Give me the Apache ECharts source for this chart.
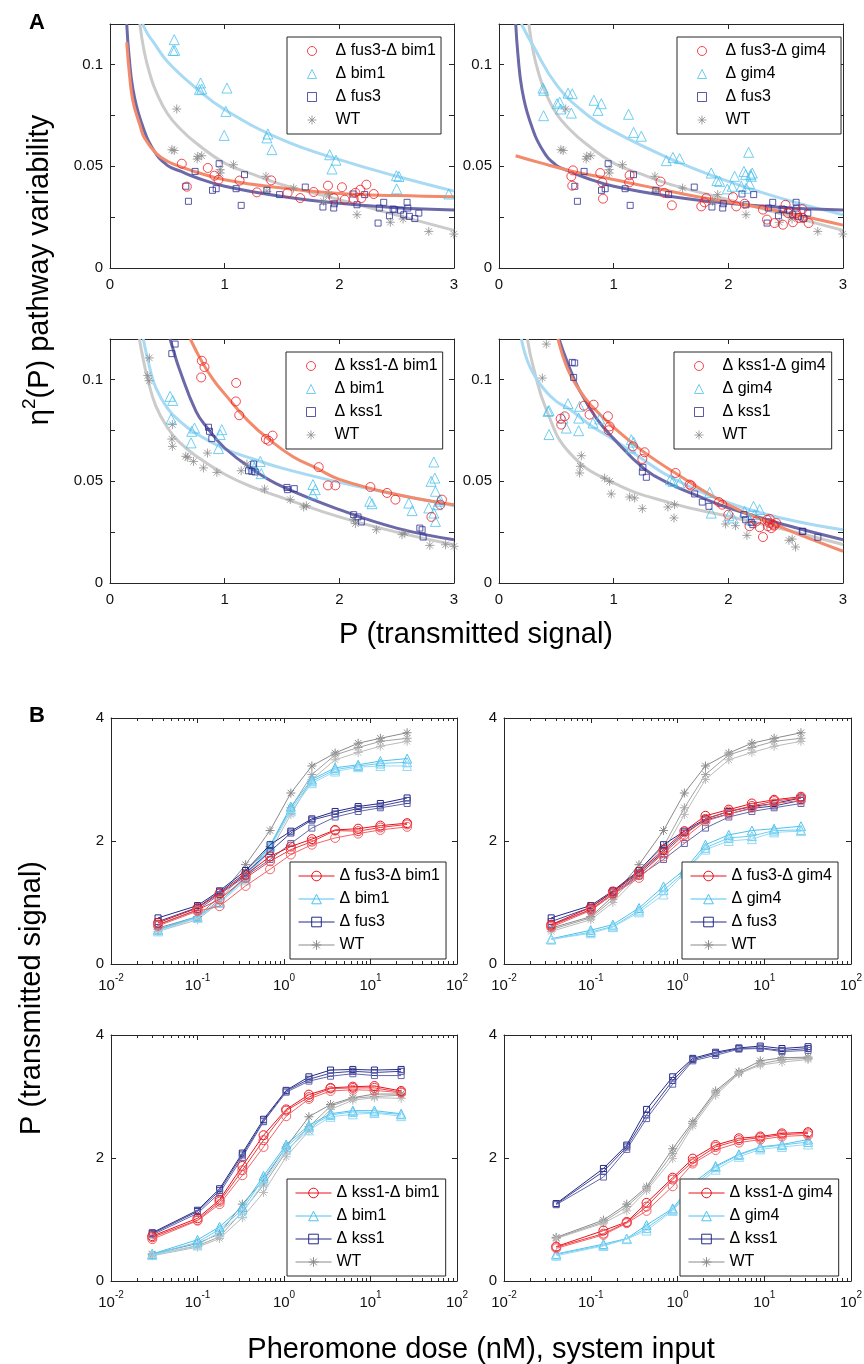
<!DOCTYPE html>
<html><head><meta charset="utf-8">
<script src="https://cdn.jsdelivr.net/npm/echarts@6/dist/echarts.min.js"></script>
<style>html,body{margin:0;padding:0;background:#fff}#a{width:864px;height:660px}#b{width:864px;height:704px}</style>
</head><body><div id="a"></div><div id="b"></div>
<script>
// ---------- Panel A data: scatter points [P, eta^2] ----------
const a1Dbl = [[0.626,0.0513],[0.670,0.0400],[0.853,0.0492],[0.911,0.0454],[0.946,0.0434],[1.130,0.0430],[1.281,0.0372],[1.406,0.0431],[1.549,0.0369],[1.659,0.0344],[1.776,0.0374],[1.901,0.0405],[1.951,0.0344],[2.023,0.0397],[2.047,0.0336],[2.125,0.0339],[2.14,0.0370],[2.183,0.0385],[2.192,0.0344],[2.236,0.0410],[2.300,0.0364]];
const a1Bim1 = [[0.56,0.1123],[0.55,0.107],[0.565,0.107],[0.79,0.091],[0.80,0.088],[0.78,0.0877],[1.02,0.0885],[1.01,0.077],[0.996,0.0652],[1.377,0.0659],[1.368,0.064],[1.412,0.0582],[1.916,0.0557],[1.971,0.053],[1.936,0.0487],[2.498,0.0454],[2.52,0.045],[2.50,0.0389],[2.955,0.0364]];
const fus3A = [[0.742,0.0475],[0.661,0.0402],[0.684,0.0328],[0.952,0.0513],[0.894,0.0382],[0.926,0.039],[1.100,0.039],[1.173,0.0459],[1.144,0.0308],[1.368,0.0382],[1.479,0.0361],[1.703,0.0398],[1.857,0.030],[1.951,0.0295],[1.956,0.0316],[2.119,0.0364],[2.154,0.0311],[2.221,0.0361],[2.338,0.0221],[2.349,0.0295],[2.387,0.0323],[2.437,0.0257],[2.469,0.029],[2.483,0.0287],[2.533,0.0284],[2.562,0.0262],[2.591,0.0323],[2.597,0.0295],[2.611,0.0254],[2.658,0.0243],[2.693,0.027]];
const wtATop = [[0.582,0.0782],[0.54,0.0582],[0.56,0.0578],[0.76,0.0536],[0.765,0.0549],[0.80,0.0552],[0.961,0.0484],[0.961,0.0467],[1.077,0.0508],[1.36,0.0451],[1.368,0.0377],[1.601,0.0393],[1.863,0.0328],[1.907,0.0361],[2.154,0.0262],[2.445,0.0225],[2.556,0.0241],[2.78,0.018],[2.998,0.0167]];
const a2Dbl = [[0.645,0.048],[0.631,0.0451],[0.639,0.0405],[0.883,0.0467],[0.901,0.0421],[0.907,0.0341],[1.139,0.0456],[1.135,0.0421],[1.409,0.0425],[1.444,0.0369],[1.508,0.0308],[1.764,0.0303],[1.808,0.0344],[1.793,0.0323],[2.04,0.0349],[2.069,0.0303],[2.142,0.0316],[2.302,0.0287],[2.337,0.0238],[2.403,0.0221],[2.476,0.0213],[2.499,0.0311],[2.52,0.027],[2.563,0.0225],[2.592,0.027],[2.615,0.0246],[2.645,0.029],[2.65,0.0246],[2.70,0.0221]];
const a2Gim4 = [[0.384,0.0885],[0.39,0.0874],[0.389,0.0749],[0.506,0.0808],[0.538,0.0782],[0.529,0.0816],[0.602,0.086],[0.639,0.0857],[0.631,0.0762],[0.828,0.0825],[0.863,0.0775],[0.892,0.0808],[1.13,0.0756],[1.174,0.0667],[1.241,0.0648],[1.459,0.0528],[1.517,0.0544],[1.575,0.0538],[1.851,0.0467],[1.9,0.043],[1.924,0.0426],[1.991,0.0389],[2.034,0.0402],[2.055,0.0451],[2.113,0.0402],[2.136,0.0475],[2.151,0.0459],[2.156,0.0392],[2.177,0.0569],[2.185,0.0415],[2.194,0.0459],[2.2,0.0451],[2.209,0.0467]];
const a3Dbl = [[0.801,0.1093],[0.824,0.1062],[0.795,0.1011],[1.10,0.0984],[1.098,0.0893],[1.127,0.0825],[1.36,0.0708],[1.383,0.070],[1.418,0.0725],[1.82,0.0570],[1.901,0.048],[1.965,0.048],[2.271,0.0472],[2.416,0.0443],[2.489,0.041],[2.803,0.0325],[2.88,0.0385],[2.895,0.041]];
const a3Bim1 = [[0.524,0.0918],[0.547,0.0898],[0.533,0.0807],[0.713,0.0746],[0.737,0.0762],[0.707,0.0689],[0.946,0.0661],[0.975,0.0754],[0.961,0.073],[1.243,0.0582],[1.26,0.057],[1.31,0.0598],[1.319,0.0538],[1.77,0.0484],[1.79,0.0459],[1.767,0.0438],[2.265,0.0402],[2.285,0.039],[2.606,0.0393],[2.635,0.0356],[2.824,0.0595],[2.833,0.0516],[2.80,0.050],[2.838,0.0451],[2.78,0.0369],[2.824,0.0344],[2.838,0.0303],[2.867,0.0402],[2.877,0.041],[2.854,0.0385]];
const a3Kss1 = [[0.568,0.1175],[0.539,0.1128],[0.859,0.0766],[0.868,0.0746],[0.888,0.071],[1.208,0.0552],[1.237,0.0549],[1.266,0.0546],[1.252,0.0585],[1.543,0.047],[1.549,0.0459],[1.607,0.0464],[2.125,0.0336],[2.163,0.0325],[2.192,0.030],[2.702,0.027],[2.722,0.0262],[2.731,0.0226]];
const a3WT = [[0.343,0.1107],[0.329,0.102],[0.341,0.0995],[0.544,0.0779],[0.539,0.0708],[0.544,0.0672],[0.661,0.0623],[0.678,0.0618],[0.728,0.0598],[0.815,0.0566],[0.85,0.0639],[0.932,0.0544],[1.144,0.0552],[1.194,0.0585],[1.348,0.0462],[1.572,0.041],[1.689,0.0374],[1.712,0.038],[2.125,0.0311],[2.14,0.0292],[2.323,0.0262],[2.547,0.0238],[2.571,0.0246],[2.789,0.0185],[2.926,0.0188],[3.0,0.018]];
const a4Dbl = [[0.543,0.0779],[0.538,0.0808],[0.573,0.082],[0.741,0.0872],[0.79,0.0828],[0.825,0.0877],[0.95,0.082],[0.965,0.077],[0.956,0.0751],[1.168,0.0672],[1.25,0.061],[1.27,0.0643],[1.54,0.0541],[1.662,0.0484],[1.677,0.0479],[1.918,0.0398],[1.947,0.0385],[2.0,0.0336],[2.185,0.0279],[2.244,0.0303],[2.273,0.0274],[2.302,0.0226],[2.337,0.0311],[2.345,0.0279],[2.36,0.0295],[2.36,0.0315],[2.375,0.027],[2.389,0.0287],[2.40,0.0282],[2.418,0.0295]];
const a4Gim4 = [[0.427,0.0844],[0.436,0.0848],[0.436,0.073],[0.558,0.0811],[0.587,0.0762],[0.602,0.0882],[0.695,0.0749],[0.695,0.0811],[0.703,0.0869],[0.82,0.0787],[0.878,0.0807],[1.154,0.0705],[1.174,0.0693],[1.148,0.0664],[1.494,0.0508],[1.517,0.050],[1.575,0.0492],[1.837,0.0446],[1.851,0.0344],[2.005,0.0331],[2.04,0.032],[2.142,0.0352],[2.185,0.0311],[2.22,0.0377],[2.229,0.0336],[2.273,0.0361]];
const a4Kss1 = [[0.639,0.1085],[0.66,0.1082],[0.651,0.1011],[1.255,0.0569],[1.25,0.0546],[1.285,0.052],[1.706,0.0438],[1.773,0.0398],[1.831,0.0377],[2.136,0.0336],[2.151,0.0311],[2.2,0.0298],[2.214,0.0287],[2.645,0.0254],[2.65,0.0254],[2.781,0.0225]];
const a4WT = [[0.413,0.1175],[0.378,0.1008],[0.718,0.0626],[0.709,0.0574],[0.703,0.0541],[0.921,0.0516],[0.965,0.050],[0.979,0.0438],[1.139,0.0423],[1.183,0.0418],[1.25,0.0366],[1.473,0.0374],[1.531,0.0385],[1.526,0.032],[1.976,0.029],[2.063,0.0282],[2.162,0.0234],[2.528,0.021],[2.557,0.0216],[2.586,0.0177]];

// ---------- Panel A fitted curves ----------
const fitA1Dbl = [[0.146,0.111],[0.17,0.095],[0.2,0.082],[0.262,0.07],[0.3,0.064],[0.4,0.0565],[0.5,0.0525],[0.63,0.0495],[0.75,0.0472],[1,0.0434],[1.5,0.0393],[2,0.0366],[2.5,0.0356],[3,0.035]];
const fitA1Bim1 = [[0.285,0.12],[0.33,0.115],[0.38,0.111],[0.5,0.1016],[0.75,0.0885],[1,0.0779],[1.5,0.0631],[2,0.0533],[2.5,0.0451],[3,0.0378]];
const fitFus3Top = [[0.146,0.12],[0.165,0.105],[0.2,0.088],[0.265,0.073],[0.38,0.058],[0.5,0.0505],[0.62,0.0475],[0.75,0.0445],[1,0.0402],[1.5,0.0352],[2,0.0318],[2.5,0.0296],[3,0.0285]];
const fitWTTop = [[0.26,0.12],[0.3,0.106],[0.35,0.095],[0.4,0.087],[0.5,0.076],[0.62,0.068],[0.75,0.0615],[1,0.0516],[1.25,0.046],[1.5,0.041],[2,0.0336],[2.5,0.026],[3,0.0185]];
const fitA2Dbl = [[0.145,0.0552],[0.355,0.0518],[0.645,0.0475],[0.936,0.0443],[1.139,0.0418],[1.43,0.0385],[1.72,0.0352],[2.01,0.0325],[2.3,0.0295],[2.59,0.0262],[3,0.0211]];
const fitA2Gim4 = [[0.195,0.12],[0.3,0.109],[0.5,0.0902],[0.75,0.0762],[1,0.0672],[1.5,0.0536],[2,0.0426],[2.5,0.0336],[3,0.0262]];
const fitA3Dbl = [[0.7,0.12],[0.8,0.109],[0.9,0.1],[1,0.093],[1.2,0.08],[1.4,0.07],[1.6,0.062],[1.8,0.0565],[2,0.051],[2.5,0.0435],[3,0.0385]];
const fitA3Bim1 = [[0.29,0.12],[0.35,0.105],[0.4,0.096],[0.5,0.086],[0.6,0.08],[0.75,0.0735],[1,0.066],[1.25,0.061],[1.5,0.0565],[2,0.0495],[2.5,0.0435],[3,0.038]];
const fitA3Kss1 = [[0.524,0.12],[0.55,0.115],[0.6,0.106],[0.75,0.0844],[0.85,0.0762],[1,0.0664],[1.25,0.0557],[1.5,0.0475],[2,0.0361],[2.5,0.027],[3,0.0213]];
const fitA3WT = [[0.256,0.12],[0.29,0.11],[0.33,0.1],[0.4,0.087],[0.5,0.0765],[0.6,0.0695],[0.75,0.0625],[1,0.0535],[1.25,0.047],[1.5,0.042],[2,0.0325],[2.5,0.025],[3,0.0188]];
const fitA4Dbl = [[0.514,0.12],[0.6,0.105],[0.7,0.095],[0.8,0.0875],[1,0.0765],[1.25,0.065],[1.54,0.054],[2,0.0385],[2.5,0.0265],[3,0.0156]];
const fitA4Gim4 = [[0.195,0.12],[0.267,0.1066],[0.384,0.0959],[0.5,0.0893],[0.616,0.0855],[0.8,0.0775],[1,0.0705],[1.25,0.061],[1.5,0.052],[2,0.0395],[2.5,0.0315],[3,0.0262]];
const fitA4Kss1 = [[0.523,0.12],[0.6,0.108],[0.7,0.095],[0.85,0.081],[1,0.071],[1.27,0.056],[1.5,0.0485],[1.75,0.0425],[2,0.037],[2.5,0.0285],[3,0.0213]];
const fitA4WT = [[0.247,0.12],[0.3,0.106],[0.413,0.0852],[0.616,0.064],[1,0.0492],[1.5,0.0393],[2,0.0328],[2.5,0.0262],[3,0.0189]];

// ---------- Panel B data: doses (nM) and 3 replicate response curves ----------
const doseTop = [0.035,0.10,0.18,0.36,0.69,1.2,2.1,3.9,7.2,13,26.5];
const doseBL = [0.030,0.10,0.18,0.33,0.58,1.06,1.94,3.45,6.25,11.1,22.6];
const doseBR = [0.040,0.14,0.26,0.44,0.88,1.5,2.75,5.1,9.0,16,32];

const wtBTop = [[0.585,0.77,1.1,1.615,2.17,2.78,3.22,3.43,3.59,3.67,3.76],[0.56,0.75,1.05,1.50,1.91,2.54,3.08,3.40,3.52,3.62,3.67],[0.53,0.72,1.00,1.43,1.83,2.43,3.00,3.32,3.44,3.54,3.62]];
const fus3B = [[0.75,0.95,1.19,1.52,1.94,2.16,2.36,2.48,2.56,2.61,2.70],[0.69,0.92,1.17,1.48,1.83,2.13,2.34,2.44,2.53,2.57,2.66],[0.64,0.88,1.13,1.43,1.70,1.96,2.21,2.39,2.48,2.54,2.61]];
const b1Bim1 = [[0.56,0.775,1.00,1.43,1.93,2.56,3.00,3.19,3.24,3.30,3.34],[0.55,0.765,1.01,1.39,1.91,2.52,2.97,3.16,3.22,3.26,3.28],[0.53,0.75,0.99,1.36,1.89,2.48,2.94,3.13,3.20,3.22,3.22]];
const b1Dbl = [[0.67,0.91,1.15,1.45,1.75,1.91,2.03,2.18,2.20,2.25,2.29],[0.64,0.88,1.05,1.40,1.67,1.86,1.99,2.17,2.16,2.22,2.27],[0.62,0.86,0.94,1.27,1.54,1.78,1.94,2.05,2.12,2.18,2.23]];
const b2Dbl = [[0.64,0.92,1.18,1.50,1.86,2.16,2.41,2.51,2.61,2.67,2.72],[0.62,0.89,1.15,1.45,1.80,2.10,2.36,2.48,2.57,2.65,2.70],[0.60,0.87,1.13,1.40,1.75,2.05,2.32,2.44,2.54,2.61,2.66]];
const b2Gim4 = [[0.41,0.55,0.64,0.91,1.26,1.53,1.94,2.10,2.17,2.20,2.24],[0.40,0.52,0.61,0.87,1.20,1.49,1.89,2.05,2.08,2.17,2.18],[0.40,0.50,0.60,0.84,1.13,1.47,1.86,2.00,2.03,2.14,2.16]];
const b3Kss1 = [[0.785,1.15,1.50,2.08,2.63,3.10,3.32,3.43,3.44,3.43,3.44],[0.77,1.13,1.47,2.05,2.60,3.09,3.28,3.38,3.41,3.39,3.41],[0.75,1.10,1.43,2.01,2.59,3.07,3.25,3.33,3.37,3.34,3.34]];
const b3Dbl = [[0.73,1.02,1.32,1.87,2.37,2.79,3.03,3.14,3.16,3.17,3.09],[0.71,0.99,1.29,1.80,2.29,2.77,2.99,3.13,3.14,3.14,3.07],[0.68,0.98,1.25,1.72,2.18,2.68,2.96,3.09,3.11,3.10,3.06]];
const b3Bim1 = [[0.44,0.67,0.88,1.21,1.71,2.22,2.53,2.72,2.77,2.77,2.72],[0.43,0.63,0.84,1.16,1.67,2.18,2.50,2.70,2.75,2.74,2.71],[0.42,0.58,0.80,1.10,1.61,2.13,2.45,2.67,2.71,2.73,2.68]];
const b3WT = [[0.44,0.61,0.77,1.25,1.64,2.18,2.67,2.87,2.98,3.04,3.04],[0.43,0.57,0.72,1.13,1.56,2.10,2.51,2.84,2.97,3.00,3.02],[0.41,0.55,0.69,1.03,1.44,2.02,2.44,2.79,2.94,2.98,2.97]];
const b4Kss1 = [[1.26,1.83,2.21,2.79,3.32,3.62,3.72,3.79,3.82,3.78,3.81],[1.25,1.78,2.18,2.70,3.26,3.60,3.70,3.78,3.79,3.75,3.78],[1.24,1.69,2.14,2.64,3.20,3.58,3.67,3.77,3.78,3.73,3.75]];
const b4WT = [[0.71,0.99,1.25,1.53,2.15,2.59,3.09,3.40,3.58,3.63,3.64],[0.70,0.96,1.21,1.50,2.07,2.56,3.06,3.38,3.53,3.60,3.62],[0.69,0.94,1.14,1.47,1.99,2.52,3.02,3.37,3.51,3.56,3.60]];
const b4Dbl = [[0.56,0.82,0.96,1.27,1.68,1.99,2.21,2.32,2.35,2.40,2.42],[0.55,0.77,0.95,1.21,1.65,1.94,2.18,2.29,2.33,2.38,2.40],[0.53,0.75,0.94,1.14,1.54,1.91,2.13,2.25,2.30,2.35,2.37]];
const b4Gim4 = [[0.44,0.60,0.69,0.91,1.18,1.59,1.87,2.06,2.18,2.22,2.30],[0.43,0.58,0.685,0.86,1.16,1.54,1.85,2.05,2.17,2.21,2.26],[0.41,0.57,0.68,0.82,1.14,1.50,1.81,2.02,2.14,2.18,2.22]];

// ---------- labels ----------
const N = {fb:'Δ fus3-Δ bim1', fg:'Δ fus3-Δ gim4', kb:'Δ kss1-Δ bim1', kg:'Δ kss1-Δ gim4', bim1:'Δ bim1', gim4:'Δ gim4', fus3:'Δ fus3', kss1:'Δ kss1', wt:'WT'};
const aTicksX = [0, 1, 2, 3];
const aTickLabelsY = {0:'0', 50:'0.05', 100:'0.1'};

// ---------- styles ----------
const FONT = '"Liberation Sans", Arial, Helvetica, sans-serif';
const AX = '#262626';
const C = {red:'#ec1c24', blue:'#4cc2ee', navy:'#2e3192', gray:'#8c8c8c'};
const FIT = {red:'#f28a6b', blue:'#a8daf3', navy:'#6c69a8', gray:'#cbcbcb'};
const SHADES = {red:['#e8111b','#ee3a40','#f26267'], blue:['#4cc2ee','#70cdf1','#96daf5'], navy:['#242a86','#3e4399','#6466ab'], gray:['#8a8a8a','#a2a2a2','#bababa']};
const STAR = 'path://M0,-10L0,10M-10,0L10,0M-7.07,-7.07L7.07,7.07M-7.07,7.07L7.07,-7.07';
const SYM = {circle:['circle',9], tri:['triangle',10], sq:['rect',6], star:[STAR,9]};

const axLine = () => ({show:true, onZero:false, lineStyle:{color:AX, width:1}});
const axTick = (len) => ({show:true, inside:true, length:len, lineStyle:{color:AX, width:1}});
const axLab = (m) => ({color:'#111', fontSize:15, fontFamily:FONT, margin:m});

// ================= CHART A =================
const gridA = [[110,24],[499,24],[110,339],[499,339]];
const optA = {animation:false, grid:[], xAxis:[], yAxis:[], series:[], legend:[], graphic:[]};
gridA.forEach((g,i)=>{
  optA.grid.push({left:g[0], top:g[1], width:344, height:244, outerBoundsMode:'none', containLabel:false});
  optA.xAxis.push({gridIndex:i, type:'value', min:aTicksX[0], max:aTicksX[aTicksX.length-1], interval:1, position:'bottom', axisLine:axLine(), axisTick:axTick(5), axisLabel:axLab(9), splitLine:{show:false}});
  optA.xAxis.push({gridIndex:i, type:'value', min:aTicksX[0], max:aTicksX[aTicksX.length-1], interval:1, position:'top', axisLine:axLine(), axisTick:axTick(5), axisLabel:{show:false}, splitLine:{show:false}});
  optA.yAxis.push({gridIndex:i, type:'value', min:0, max:0.12, interval:0.025, position:'left', axisLine:axLine(), axisTick:axTick(5), axisLabel:Object.assign(axLab(7), {formatter:v=>aTickLabelsY[Math.round(v*1000)] || ''}), splitLine:{show:false}});
  optA.yAxis.push({gridIndex:i, type:'value', min:0, max:0.12, interval:0.025, position:'right', axisLine:axLine(), axisTick:axTick(5), axisLabel:{show:false}, splitLine:{show:false}});
});
function scat(name, data, sym, color, gi){
  return {type:'scatter', name, data, xAxisIndex:2*gi, yAxisIndex:2*gi, symbol:sym[0], symbolSize:sym[1], symbolKeepAspect:true, itemStyle:{color:'rgba(0,0,0,0)', borderColor:color, borderWidth:1}, z:3, silent:true};
}
function fit(data, color, gi, id){
  return {type:'line', name:'fit'+id, data, xAxisIndex:2*gi, yAxisIndex:2*gi, smooth:0.45, symbol:'none', showSymbol:false, lineStyle:{color, width:3}, itemStyle:{color}, z:2, silent:true, clip:true};
}
const panelsA = [
  {gi:0, fits:[[fitWTTop,'gray'],[fitA1Bim1,'blue'],[fitFus3Top,'navy'],[fitA1Dbl,'red']], pts:[[N.wt,wtATop,'star','gray'],[N.bim1,a1Bim1,'tri','blue'],[N.fus3,fus3A,'sq','navy'],[N.fb,a1Dbl,'circle','red']], leg:[N.fb,N.bim1,N.fus3,N.wt], box:[287,37,5]},
  {gi:1, fits:[[fitWTTop,'gray'],[fitA2Gim4,'blue'],[fitFus3Top,'navy'],[fitA2Dbl,'red']], pts:[[N.wt,wtATop,'star','gray'],[N.gim4,a2Gim4,'tri','blue'],[N.fus3,fus3A,'sq','navy'],[N.fg,a2Dbl,'circle','red']], leg:[N.fg,N.gim4,N.fus3,N.wt], box:[677,37,15]},
  {gi:2, fits:[[fitA3WT,'gray'],[fitA3Bim1,'blue'],[fitA3Kss1,'navy'],[fitA3Dbl,'red']], pts:[[N.wt,a3WT,'star','gray'],[N.bim1,a3Bim1,'tri','blue'],[N.kss1,a3Kss1,'sq','navy'],[N.kb,a3Dbl,'circle','red']], leg:[N.kb,N.bim1,N.kss1,N.wt], box:[286,352,5]},
  {gi:3, fits:[[fitA4WT,'gray'],[fitA4Gim4,'blue'],[fitA4Kss1,'navy'],[fitA4Dbl,'red']], pts:[[N.wt,a4WT,'star','gray'],[N.gim4,a4Gim4,'tri','blue'],[N.kss1,a4Kss1,'sq','navy'],[N.kg,a4Dbl,'circle','red']], leg:[N.kg,N.gim4,N.kss1,N.wt], box:[674,352,6]}
];
let fid = 0;
panelsA.forEach(p=>{
  p.fits.forEach(f=>optA.series.push(fit(f[0], FIT[f[1]], p.gi, fid++)));
  p.pts.forEach(s=>optA.series.push(scat(s[0], s[1], SYM[s[2]], C[s[3]], p.gi)));
  optA.legend.push({show:true, orient:'vertical', left:p.box[0], top:p.box[1], data:p.leg, selectedMode:false, symbolKeepAspect:true, itemWidth:9, itemHeight:9, itemGap:7, padding:[6,p.box[2],6,20], borderColor:AX, borderWidth:1, borderRadius:0, backgroundColor:'#fff', textStyle:{fontSize:16, fontFamily:FONT, color:'#000', lineHeight:14, padding:[0,0,0,14]}, itemStyle:{borderWidth:1}});
});
optA.graphic = [
  {type:'text', x:37, y:23, style:{text:'A', font:'bold 22px '+FONT, fill:'#000', align:'center', verticalAlign:'middle'}},
  {type:'text', x:37, y:270, rotation:Math.PI/2, style:{text:'{a|η}{s|2}{a|(P) pathway variability}', align:'center', verticalAlign:'middle', fill:'#000', rich:{a:{fontSize:29, fontFamily:FONT, fill:'#000', color:'#000', lineHeight:34, verticalAlign:'bottom'}, s:{fontSize:19, fontFamily:FONT, color:'#000', fill:'#000', lineHeight:22, verticalAlign:'top'}}}},
  {type:'text', x:476, y:635, style:{text:'P (transmitted signal)', font:'29px '+FONT, fill:'#000', align:'center', verticalAlign:'middle'}}
];
echarts.init(document.getElementById('a')).setOption(optA);

// ================= CHART B =================
const gridB = [[111,58,346],[504,58,347],[111,375,346],[504,375,347]];
const optB = {animation:false, grid:[], xAxis:[], yAxis:[], series:[], legend:[], graphic:[]};
const logLabel = {formatter:v=>'{b|10}{s|'+Math.round(Math.log10(v))+'}', rich:{b:{fontSize:15, fontFamily:FONT, color:'#111', lineHeight:20, verticalAlign:'bottom'}, s:{fontSize:10, fontFamily:FONT, color:'#111', lineHeight:11, verticalAlign:'top'}}};
gridB.forEach((g,i)=>{
  optB.grid.push({left:g[0], top:g[1], width:g[2], height:246, outerBoundsMode:'none', containLabel:false});
  const minor = {show:true, splitNumber:9, length:3, lineStyle:{color:AX, width:1}};
  optB.xAxis.push({gridIndex:i, type:'log', logBase:10, min:0.01, max:100, position:'bottom', axisLine:axLine(), axisTick:axTick(5), minorTick:minor, axisLabel:Object.assign(axLab(9), logLabel), splitLine:{show:false}, minorSplitLine:{show:false}});
  optB.xAxis.push({gridIndex:i, type:'log', logBase:10, min:0.01, max:100, position:'top', axisLine:axLine(), axisTick:axTick(5), minorTick:minor, axisLabel:{show:false}, splitLine:{show:false}, minorSplitLine:{show:false}});
  optB.yAxis.push({gridIndex:i, type:'value', min:0, max:4, interval:2, position:'left', axisLine:axLine(), axisTick:axTick(5), axisLabel:axLab(7), splitLine:{show:false}});
  optB.yAxis.push({gridIndex:i, type:'value', min:0, max:4, interval:2, position:'right', axisLine:axLine(), axisTick:axTick(5), axisLabel:{show:false}, splitLine:{show:false}});
});
function reps(name, dose, arr, sym, col, gi, z){
  return arr.map((r,k)=>({type:'line', name, data:dose.map((d,j)=>[d, r[j]]), xAxisIndex:2*gi, yAxisIndex:2*gi, symbol:sym[0], symbolSize:sym[1], symbolKeepAspect:true, showSymbol:true, showAllSymbol:true, lineStyle:{color:SHADES[col][k], width:1}, itemStyle:{color:'rgba(0,0,0,0)', borderColor:SHADES[col][k], borderWidth:1}, z:z, silent:true}));
}
const symB = {circle:['circle',9], tri:['triangle',9], sq:['rect',6], star:[STAR,9]};
const panelsB = [
  {gi:0, d:doseTop, s:[[N.wt,wtBTop,'star','gray'],[N.bim1,b1Bim1,'tri','blue'],[N.fus3,fus3B,'sq','navy'],[N.fb,b1Dbl,'circle','red']], leg:[N.fb,N.bim1,N.fus3,N.wt], box:[290,202,6]},
  {gi:1, d:doseTop, s:[[N.wt,wtBTop,'star','gray'],[N.gim4,b2Gim4,'tri','blue'],[N.fus3,fus3B,'sq','navy'],[N.fg,b2Dbl,'circle','red']], leg:[N.fg,N.gim4,N.fus3,N.wt], box:[682,202,6]},
  {gi:2, d:doseBL, s:[[N.wt,b3WT,'star','gray'],[N.bim1,b3Bim1,'tri','blue'],[N.kss1,b3Kss1,'sq','navy'],[N.kb,b3Dbl,'circle','red']], leg:[N.kb,N.bim1,N.kss1,N.wt], box:[287,519,6]},
  {gi:3, d:doseBR, s:[[N.wt,b4WT,'star','gray'],[N.gim4,b4Gim4,'tri','blue'],[N.kss1,b4Kss1,'sq','navy'],[N.kg,b4Dbl,'circle','red']], leg:[N.kg,N.gim4,N.kss1,N.wt], box:[680,519,6]}
];
panelsB.forEach(p=>{
  p.s.forEach((s,si)=>reps(s[0], p.d, s[1], symB[s[2]], s[3], p.gi, 2+si).forEach(x=>optB.series.push(x)));
  optB.legend.push({show:true, orient:'vertical', left:p.box[0], top:p.box[1], data:p.leg, selectedMode:false, symbolKeepAspect:true, itemWidth:36, itemHeight:12, itemGap:7, padding:[6,p.box[2],6,8], borderColor:AX, borderWidth:1, borderRadius:0, backgroundColor:'#fff', textStyle:{fontSize:16, fontFamily:FONT, color:'#000', lineHeight:14}, itemStyle:{borderWidth:1}, lineStyle:{width:1}});
});
optB.graphic = [
  {type:'text', x:37, y:56, style:{text:'B', font:'bold 22px '+FONT, fill:'#000', align:'center', verticalAlign:'middle'}},
  {type:'text', x:32, y:338, rotation:Math.PI/2, style:{text:'P (transmitted signal)', font:'29px '+FONT, fill:'#000', align:'center', verticalAlign:'middle'}},
  {type:'text', x:481, y:690, style:{text:'Pheromone dose (nM), system input', font:'29px '+FONT, fill:'#000', align:'center', verticalAlign:'middle'}}
];
echarts.init(document.getElementById('b')).setOption(optB);
</script></body></html>
